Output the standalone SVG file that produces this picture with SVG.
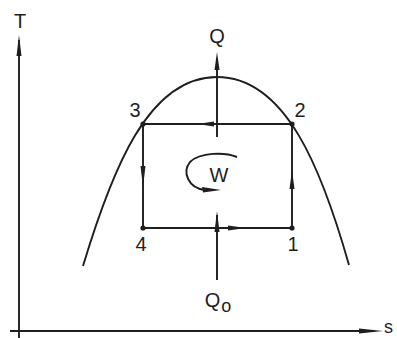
<svg xmlns="http://www.w3.org/2000/svg" width="397" height="338" viewBox="0 0 397 338">
<style>
.ln{fill:none;stroke:#1e1e1e;stroke-width:1.9}
.ah{fill:#1e1e1e;stroke:none}
.tx{font-family:"Liberation Sans",Arial,sans-serif;font-size:20px;fill:#1e1e1e;text-anchor:middle}
.dot{fill:#1e1e1e}
</style>
<rect width="397" height="338" fill="#fff"/>
<g id="axes">
<line class="ln" x1="19" y1="40" x2="19" y2="338"/>
<polygon class="ah" points="19,35 16.5,56 21.5,56"/>
<line class="ln" x1="10" y1="331" x2="372" y2="331"/>
<polygon class="ah" points="383,331 359,328.5 359,333.5"/>
<text class="tx" x="20" y="28">T</text>
<text class="tx" x="393" y="333" style="text-anchor:end;font-size:18px">s</text>
</g>
<g id="dome">
<path class="ln" d="M83,266 C112,170 148,77 217,77 C286,77 322,170 349,265"/>
</g>
<g id="connectors">
<line class="ln" x1="143" y1="124" x2="292" y2="124"/>
<line class="ln" x1="292" y1="124" x2="292" y2="228"/>
<line class="ln" x1="143" y1="124" x2="143" y2="228"/>
<line class="ln" x1="143" y1="228" x2="292" y2="228"/>
<polygon class="ah" points="197,124 214,121.5 214,126.5"/>
<polygon class="ah" points="292,170 289.5,189 294.5,189"/>
<polygon class="ah" points="143,187 140.5,166 145.5,166"/>
<polygon class="ah" points="246,228 228,225.5 228,230.5"/>
<line class="ln" x1="217" y1="58" x2="217" y2="137"/>
<polygon class="ah" points="217,52 214.5,70 219.5,70"/>
<line class="ln" x1="217" y1="215" x2="217" y2="280"/>
<polygon class="ah" points="217,211 214.5,232 219.5,232"/>
<path class="ln" d="M237,157 C225,152 200,152 190,162 C182,172 188,188 205,190"/>
<polygon class="ah" points="221,190 202,187 203,192.5"/>
</g>
<g id="n3"><circle class="dot" cx="143" cy="124" r="2.6"/><text class="tx" x="135" y="117">3</text></g>
<g id="n2"><circle class="dot" cx="292" cy="124" r="2.6"/><text class="tx" x="300" y="117">2</text></g>
<g id="n4"><circle class="dot" cx="143" cy="228" r="2.6"/><text class="tx" x="141" y="251">4</text></g>
<g id="n1"><circle class="dot" cx="292" cy="228" r="2.6"/><text class="tx" x="293" y="251">1</text></g>
<g id="labels">
<text class="tx" x="217" y="43">Q</text>
<text class="tx" x="219" y="182">W</text>
<text class="tx" x="218" y="307">Q<tspan font-size="18" dx="1" dy="5">o</tspan></text>
</g>
</svg>
